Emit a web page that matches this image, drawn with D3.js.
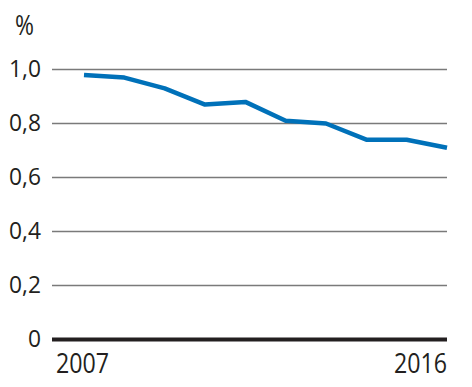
<!DOCTYPE html>
<html><head><meta charset="utf-8">
<script src="https://cdn.jsdelivr.net/npm/d3@7"></script>
<style>body{margin:0;background:#fff}svg{display:block}text{font-family:"Open Sans",sans-serif;fill:#231f20}</style>
</head><body>
<script>
const years = [2007,2008,2009,2010,2011,2012,2013,2014,2015,2016];
const values = [0.98,0.97,0.93,0.87,0.88,0.81,0.80,0.74,0.74,0.71];
const yTicks = [0,0.2,0.4,0.6,0.8,1.0];
const yTickLabels = ["0","0,2","0,4","0,6","0,8","1,0"];
const xTickLabels = ["2007","2016"];

const W=472,H=387;
const svg=d3.select("body").append("svg").attr("width",W).attr("height",H);
const x=d3.scaleLinear().domain([2007,2016]).range([84,447]);
const y=d3.scaleLinear().domain([0,1]).range([339.5,69.5]);
const gridL=52, gridR=447;

svg.append("g").selectAll("line").data(yTicks.filter(d=>d>0)).join("line")
  .attr("x1",gridL).attr("x2",gridR).attr("y1",d=>y(d)).attr("y2",d=>y(d))
  .attr("stroke","#7a7a7a").attr("stroke-width",1.5);

svg.append("g").selectAll("text").data(yTicks).join("text")
  .attr("transform",d=>`translate(41,${y(d)+7}) scale(0.95,1)`).attr("text-anchor","end")
  .attr("font-size",24).text((d,i)=>yTickLabels[i]);

svg.append("text").attr("transform","translate(15,35) scale(0.85,1)").attr("font-size",27).text("%");

svg.append("line").attr("x1",gridL).attr("x2",gridR).attr("y1",y(0)).attr("y2",y(0))
  .attr("stroke","#231f20").attr("stroke-width",4);

svg.append("text").attr("transform",`translate(56,373) scale(0.86,1)`).attr("font-size",27).text(xTickLabels[0]);
svg.append("text").attr("transform",`translate(${x(2016)},373) scale(0.86,1)`).attr("text-anchor","end").attr("font-size",27).text(xTickLabels[1]);

svg.append("path").datum(years.map((d,i)=>[d,values[i]]))
  .attr("d",d3.line().x(d=>x(d[0])).y(d=>y(d[1])))
  .attr("fill","none").attr("stroke","#0071b9").attr("stroke-width",4.5).attr("stroke-linejoin","round");
</script>
</body></html>
